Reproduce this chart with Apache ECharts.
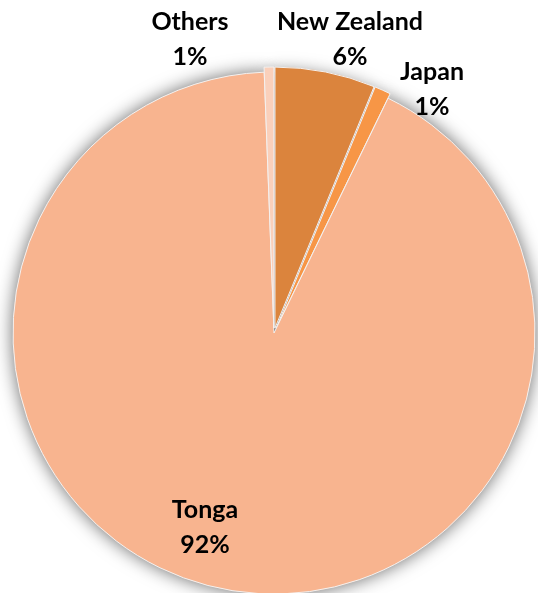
<!DOCTYPE html>
<html><head><meta charset="utf-8">
<script src="https://cdn.jsdelivr.net/npm/echarts@6/dist/echarts.min.js"></script>
<style>html,body{margin:0;padding:0;background:#fff}#c{width:538px;height:593px}</style>
</head><body><div id="c"></div>
<script>
const categories = ["New Zealand", "Japan", "Tonga", "Others"];
const values = [6.2, 1.0, 92.2, 0.6];
const percentLabels = ["6%", "1%", "92%", "1%"];
const colors = ["#DB843D", "#F79646", "#F8B48F", "#FAD0BB"];
const exploded = [true, true, false, true];
const labelPos = [[350, 39], [432, 89], [205, 527], [190, 39]];

const chart = echarts.init(document.getElementById('c'), null, {renderer: 'canvas'});
const center = [274, 333];
const radius = 261;
chart.setOption({
  animation: false,
  series: [
    {
      type: 'pie', silent: true, center: center, radius: radius, startAngle: 90, z: 1,
      label: {show: false}, labelLine: {show: false},
      data: values.map(v => ({value: v})),
      itemStyle: {color: '#cccccc', borderWidth: 0, shadowBlur: 18, shadowColor: 'rgba(0,0,0,0.6)'}
    },
    {
      type: 'pie', center: center, radius: radius, startAngle: 90, z: 2,
      selectedMode: 'multiple', selectedOffset: 5,
      itemStyle: {borderColor: '#f4f0ee', borderWidth: 1},
      label: {show: false}, labelLine: {show: false},
      emphasis: {disabled: true},
      data: categories.map((n, i) => ({name: n, value: values[i], selected: exploded[i], itemStyle: {color: colors[i]}}))
    },
    {
      type: 'pie', silent: true, center: center, radius: radius, startAngle: 90, z: 3,
      itemStyle: {color: 'rgba(0,0,0,0)', borderWidth: 0},
      label: {
        show: true, position: 'inside', overflow: 'none',
        rich: {t: {color: '#000', fontFamily: 'Lato', fontWeight: 'bold', fontSize: 25, lineHeight: 35, width: 170, align: 'center'}}
      },
      labelLine: {show: false},
      labelLayout: function (p) {
        const pos = labelPos[p.dataIndex];
        return {x: pos[0], y: pos[1], align: 'center', verticalAlign: 'middle', hideOverlap: false, moveOverlap: false};
      },
      emphasis: {disabled: true},
      data: categories.map((n, i) => ({name: n, value: values[i], label: {formatter: '{t|' + n + '}\n{t|' + percentLabels[i] + '}'}}))
    }
  ]
});
</script></body></html>
